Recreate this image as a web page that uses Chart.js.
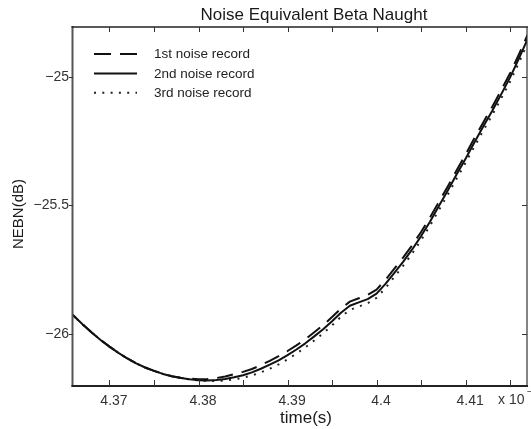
<!DOCTYPE html>
<html>
<head>
<meta charset="utf-8">
<script src="https://cdn.jsdelivr.net/npm/chart.js@4/dist/chart.umd.min.js"></script>
<style>
  html, body { margin: 0; padding: 0; background: #fff; }
  canvas { display: block; }
</style>
</head>
<body>
<canvas id="nebnChart" width="531" height="429"></canvas>
<script>
// time axis, in units of 10^-3 s
const times = [
  4.365, 4.366, 4.367, 4.368, 4.369, 4.370, 4.371, 4.372, 4.373, 4.374,
  4.375, 4.376, 4.377, 4.378, 4.379, 4.380, 4.381, 4.382, 4.383, 4.384,
  4.385, 4.386, 4.387, 4.388, 4.389, 4.390, 4.391, 4.392, 4.393, 4.394,
  4.395, 4.396, 4.397, 4.398, 4.399, 4.400, 4.401, 4.402, 4.403, 4.404,
  4.405, 4.406, 4.407, 4.408, 4.409, 4.410, 4.411, 4.412, 4.413, 4.414,
  4.415, 4.416, 4.417
];

const record1 = [
  -25.894, -25.930, -25.963, -25.994, -26.023, -26.049, -26.073, -26.095, -26.114, -26.130,
  -26.143, -26.155, -26.164, -26.170, -26.173, -26.176, -26.175, -26.171, -26.165, -26.156,
  -26.147, -26.136, -26.121, -26.104, -26.086, -26.066, -26.044, -26.020, -25.993, -25.965,
  -25.934, -25.901, -25.874, -25.861, -25.848, -25.827, -25.789, -25.746, -25.702, -25.655,
  -25.603, -25.547, -25.486, -25.426, -25.363, -25.302, -25.238, -25.176, -25.116, -25.052,
  -24.986, -24.912, -24.834
];

const record2 = [
  -25.894, -25.930, -25.963, -25.994, -26.023, -26.049, -26.073, -26.095, -26.114, -26.130,
  -26.143, -26.155, -26.164, -26.171, -26.176, -26.180, -26.181, -26.179, -26.175, -26.168,
  -26.160, -26.149, -26.135, -26.119, -26.102, -26.082, -26.060, -26.036, -26.009, -25.981,
  -25.950, -25.917, -25.890, -25.877, -25.864, -25.843, -25.805, -25.762, -25.718, -25.671,
  -25.619, -25.563, -25.502, -25.442, -25.379, -25.318, -25.254, -25.192, -25.132, -25.068,
  -25.002, -24.928, -24.850
];

const record3 = [
  -25.894, -25.930, -25.963, -25.994, -26.023, -26.049, -26.073, -26.095, -26.114, -26.130,
  -26.143, -26.155, -26.164, -26.171, -26.176, -26.180, -26.183, -26.183, -26.181, -26.176,
  -26.170, -26.161, -26.149, -26.135, -26.118, -26.098, -26.076, -26.052, -26.025, -25.997,
  -25.966, -25.933, -25.906, -25.893, -25.880, -25.859, -25.821, -25.778, -25.734, -25.687,
  -25.635, -25.579, -25.518, -25.458, -25.395, -25.334, -25.270, -25.208, -25.148, -25.084,
  -25.018, -24.944, -24.866
];

const seriesNames = ['1st noise record', '2nd noise record', '3rd noise record'];
const chartTitle = 'Noise Equivalent Beta Naught';
const xTitle = 'time(s)';
const yTitle = 'NEBN(dB)';
const xExponent = '\u22123';

const FONT = '"Liberation Sans", Arial, Helvetica, sans-serif';
const INK = '#1a1a1a';

const toPoints = vals => vals.map((v, i) => ({ x: times[i], y: v }));

// matlab style box: inward ticks, mirrored on top/right, legend inside, titles
const matlabFrame = {
  id: 'matlabFrame',
  afterDraw(chart) {
    const { ctx, chartArea: a, scales: { x, y } } = chart;
    ctx.save();

    // box
    ctx.lineCap = 'butt';
    ctx.strokeStyle = '#555';
    ctx.lineWidth = 2;
    ctx.beginPath(); ctx.moveTo(a.left - 0.5, a.top - 1); ctx.lineTo(a.left - 0.5, a.bottom + 1); ctx.stroke();
    ctx.strokeStyle = '#222';
    ctx.beginPath(); ctx.moveTo(a.left - 1.5, a.bottom); ctx.lineTo(a.right + 1, a.bottom); ctx.stroke();
    ctx.lineWidth = 1.5;
    ctx.beginPath(); ctx.moveTo(a.left - 1.5, a.top); ctx.lineTo(a.right + 1, a.top); ctx.stroke();
    ctx.lineWidth = 1.2;
    ctx.strokeStyle = '#333';
    ctx.beginPath(); ctx.moveTo(a.right, a.top); ctx.lineTo(a.right, a.bottom); ctx.stroke();

    // tick marks
    ctx.lineWidth = 1;
    ctx.strokeStyle = '#333';
    x.ticks.forEach(t => {
      const px = Math.round(x.getPixelForValue(t.value)) + 0.5;
      ctx.beginPath(); ctx.moveTo(px, a.bottom); ctx.lineTo(px, a.bottom - 6); ctx.stroke();
      ctx.beginPath(); ctx.moveTo(px, a.top); ctx.lineTo(px, a.top + 5); ctx.stroke();
    });
    y.ticks.forEach(t => {
      const py = Math.round(y.getPixelForValue(t.value)) + 0.5;
      ctx.beginPath(); ctx.moveTo(a.left - 4, py); ctx.lineTo(a.left, py); ctx.stroke();
      ctx.beginPath(); ctx.moveTo(a.right, py); ctx.lineTo(a.right - 5, py); ctx.stroke();
    });

    // legend
    ctx.font = '13.5px ' + FONT;
    ctx.textAlign = 'left';
    ctx.textBaseline = 'middle';
    chart.data.datasets.forEach((ds, i) => {
      const ly = a.top + 27 + i * 19.4;
      ctx.strokeStyle = ds.borderColor;
      ctx.lineWidth = ds.borderWidth;
      ctx.setLineDash(ds.legendDash || []);
      ctx.beginPath(); ctx.moveTo(a.left + 21, ly); ctx.lineTo(a.left + 64, ly); ctx.stroke();
      ctx.setLineDash([]);
      ctx.fillStyle = '#222';
      ctx.fillText(ds.label, a.left + 81, ly + 0.5);
    });

    // titles
    ctx.fillStyle = INK;
    ctx.textAlign = 'center';
    ctx.font = '17px ' + FONT;
    ctx.fillText(chartTitle, a.left + 241, 15);
    ctx.fillText(xTitle, a.left + 233, 418);
    ctx.save();
    ctx.translate(19, 214);
    ctx.rotate(-Math.PI / 2);
    ctx.font = '15px ' + FONT;
    ctx.fillText(yTitle, 0, 0);
    ctx.restore();

    // axis multiplier
    ctx.fillStyle = '#333';
    ctx.textAlign = 'left';
    ctx.font = '14px ' + FONT;
    ctx.fillText('x 10', a.right - 29, 400);
    ctx.font = '10px ' + FONT;
    ctx.fillText(xExponent, a.right, 392);

    ctx.restore();
  }
};

new Chart(document.getElementById('nebnChart'), {
  type: 'line',
  data: {
    datasets: [
      {
        label: seriesNames[0],
        data: toPoints(record1),
        borderColor: '#111',
        borderWidth: 2,
        borderDash: [16, 9],
        legendDash: [17, 9]
      },
      {
        label: seriesNames[1],
        data: toPoints(record2),
        borderColor: '#111',
        borderWidth: 2
      },
      {
        label: seriesNames[2],
        data: toPoints(record3),
        borderColor: '#222',
        borderWidth: 2,
        borderDash: [2, 6.5],
        legendDash: [2, 6.3]
      }
    ]
  },
  options: {
    responsive: false,
    animation: false,
    devicePixelRatio: 1,
    layout: { padding: { left: 0, right: 4, top: 27, bottom: 0 } },
    elements: {
      point: { radius: 0 },
      line: { tension: 0, borderJoinStyle: 'round', fill: false }
    },
    plugins: {
      legend: { display: false },
      title: { display: false },
      tooltip: { enabled: false }
    },
    scales: {
      x: {
        type: 'linear',
        min: 4.3659,
        max: 4.4169,
        afterFit: s => { s.height = 43; },
        border: { display: false },
        grid: { display: false, drawTicks: false },
        ticks: {
          stepSize: 0.005,
          includeBounds: false,
          autoSkip: false,
          maxRotation: 0,
          padding: 7,
          labelOffset: 4.5,
          color: '#333',
          font: { family: FONT, size: 14 },
          callback: v => {
            const c = v * 100;
            return Math.abs(c - Math.round(c)) < 1e-6 ? String(+v.toFixed(2)) : '';
          }
        }
      },
      y: {
        min: -26.202,
        max: -24.806,
        afterFit: s => { s.width = 73; },
        border: { display: false },
        grid: { display: false, drawTicks: false },
        ticks: {
          stepSize: 0.5,
          includeBounds: false,
          padding: 4,
          color: '#333',
          font: { family: FONT, size: 14 },
          callback: v => String(v).replace('-', '\u2212')
        }
      }
    }
  },
  plugins: [matlabFrame]
});
</script>
</body>
</html>
